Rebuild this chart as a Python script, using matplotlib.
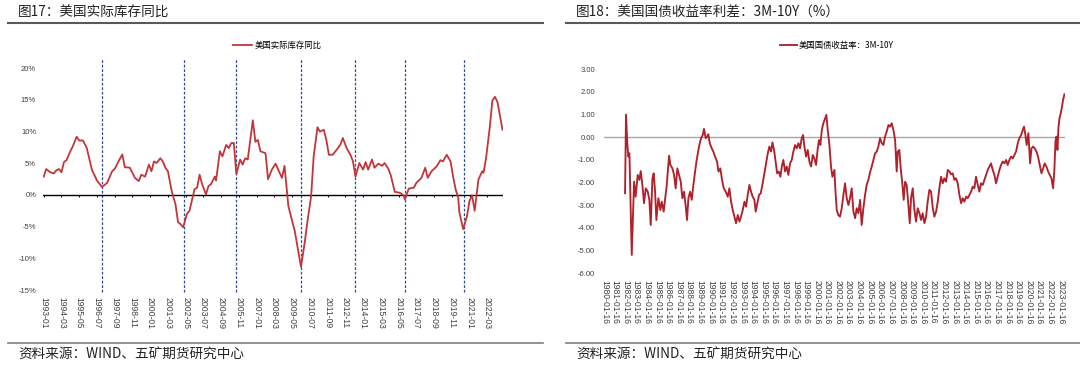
import matplotlib
matplotlib.use("Agg")
import matplotlib.pyplot as plt
from matplotlib.lines import Line2D

plt.rcParams['font.family'] = ['Noto Sans CJK SC', 'DejaVu Sans']
plt.rcParams['axes.unicode_minus'] = False

# === 图17: 美国实际库存同比 (%) ===
inv_dates = [
    '1993-01', '1993-03', '1993-06', '1993-09', '1993-11', '1994-01', '1994-03', '1994-05',
    '1994-07', '1994-10', '1994-12', '1995-03', '1995-05', '1995-08', '1995-11', '1996-03',
    '1996-07', '1996-11', '1997-03', '1997-07', '1997-09', '1997-12', '1998-03', '1998-05',
    '1998-09', '1999-01', '1999-04', '1999-06', '1999-09', '1999-12', '2000-02', '2000-04',
    '2000-06', '2000-09', '2000-11', '2001-01', '2001-03', '2001-06', '2001-09', '2001-11',
    '2002-01', '2002-03', '2002-06', '2002-08', '2002-12', '2003-02', '2003-04', '2003-06',
    '2003-09', '2003-11', '2004-01', '2004-04', '2004-05', '2004-08', '2004-10', '2005-01',
    '2005-03', '2005-05', '2005-07', '2005-09', '2005-12', '2006-02', '2006-04', '2006-06',
    '2006-10', '2006-12', '2007-02', '2007-04', '2007-08', '2007-10', '2008-01', '2008-04',
    '2008-06', '2008-09', '2008-11', '2009-02', '2009-05', '2009-07', '2009-10', '2009-12',
    '2010-03', '2010-05', '2010-08', '2010-10', '2011-01', '2011-03', '2011-06', '2011-08',
    '2011-10', '2012-01', '2012-04', '2012-07', '2012-09', '2012-12', '2013-03', '2013-05',
    '2013-07', '2013-10', '2014-01', '2014-03', '2014-05', '2014-08', '2014-10', '2015-01',
    '2015-04', '2015-06', '2015-09', '2015-11', '2016-02', '2016-06', '2016-09', '2016-10',
    '2017-01', '2017-05', '2017-07', '2017-11', '2018-02', '2018-04', '2018-07', '2018-11',
    '2019-02', '2019-04', '2019-07', '2019-10', '2019-12', '2020-02', '2020-04', '2020-05',
    '2020-08', '2020-11', '2021-01', '2021-03', '2021-05', '2021-08', '2021-11', '2021-12',
    '2022-02', '2022-05', '2022-07', '2022-09', '2022-11', '2023-03',
]
inv_yoy = [
    2.9, 4.1, 3.6, 3.4, 3.9, 4.1, 3.6, 5.2,
    5.5, 6.9, 7.7, 9.2, 8.6, 8.6, 7.4, 4.0,
    2.3, 1.25, 1.9, 3.75, 4.1, 5.3, 6.4, 4.4,
    4.3, 2.7, 2.2, 3.2, 2.9, 4.8, 3.75, 5.3,
    5.05, 5.8, 5.3, 4.3, 3.75, 0.6, -1.5, -4.3,
    -4.6, -5.1, -3.0, -2.5, 0.9, 1.15, 3.2, 1.7,
    0.1, 1.4, 1.7, 2.9, 2.3, 6.9, 6.1, 7.9,
    7.4, 8.2, 8.2, 3.3, 5.6, 4.8, 5.8, 5.6,
    11.8, 8.4, 8.7, 6.9, 6.6, 2.5, 4.0, 4.95,
    4.0, 2.7, 4.6, -1.7, -4.1, -5.6, -9.0, -11.35,
    -7.4, -4.3, -0.2, 6.1, 10.7, 10.0, 10.3, 8.7,
    6.35, 6.35, 7.1, 7.9, 9.0, 7.4, 6.35, 5.3,
    2.9, 5.05, 4.0, 5.2, 4.0, 5.6, 4.3, 4.95,
    4.6, 5.05, 4.1, 3.0, 0.5, 0.35, -0.05, -0.7,
    1.0, 1.15, 1.9, 2.7, 4.3, 2.7, 3.75, 4.5,
    5.5, 5.3, 6.35, 5.3, 2.9, 0.9, -0.4, -2.8,
    -5.4, -3.3, -0.9, -0.05, -2.5, 2.45, 3.75, 3.5,
    5.8, 10.8, 14.9, 15.5, 14.7, 10.3,
]
inv_marks = ['1996-11', '2002-04', '2005-09', '2009-12', '2013-07', '2016-10', '2020-09']
inv_ticklabels = [
    '1993-01', '1994-03', '1995-05', '1996-07', '1997-09', '1998-11', '2000-01', '2001-03',
    '2002-05', '2003-07', '2004-09', '2005-11', '2007-01', '2008-03', '2009-05', '2010-07',
    '2011-09', '2012-11', '2014-01', '2015-03', '2016-05', '2017-07', '2018-09', '2019-11',
    '2021-01', '2022-03',
]
inv_yticks = [-15, -10, -5, 0, 5, 10, 15, 20]

# === 图18: 美国国债收益率利差 3M-10Y (%) ===
spr_year = [
    1981.98, 1982.07, 1982.2, 1982.29, 1982.39, 1982.48, 1982.61, 1982.7, 1982.83, 1982.98,
    1983.17, 1983.33, 1983.46, 1983.61, 1983.77, 1983.93, 1984.12, 1984.27, 1984.4, 1984.56,
    1984.68, 1984.81, 1984.93, 1985.12, 1985.31, 1985.44, 1985.62, 1985.75, 1985.91, 1986.13,
    1986.25, 1986.44, 1986.6, 1986.75, 1986.91, 1987.07, 1987.23, 1987.38, 1987.54, 1987.7,
    1987.82, 1987.95, 1988.11, 1988.26, 1988.42, 1988.58, 1988.73, 1988.95, 1989.14, 1989.3,
    1989.42, 1989.58, 1989.71, 1989.83, 1989.96, 1990.15, 1990.3, 1990.46, 1990.65, 1990.78,
    1990.96, 1991.12, 1991.28, 1991.47, 1991.66, 1991.81, 1991.97, 1992.13, 1992.28, 1992.44,
    1992.6, 1992.76, 1992.91, 1993.07, 1993.23, 1993.38, 1993.54, 1993.7, 1993.85, 1994.01,
    1994.17, 1994.29, 1994.45, 1994.61, 1994.77, 1994.95, 1995.11, 1995.27, 1995.43, 1995.58,
    1995.74, 1995.87, 1996.02, 1996.15, 1996.31, 1996.46, 1996.62, 1996.75, 1996.9, 1997.06,
    1997.22, 1997.37, 1997.53, 1997.69, 1997.84, 1998.0, 1998.16, 1998.32, 1998.47, 1998.63,
    1998.76, 1998.88, 1999.04, 1999.2, 1999.35, 1999.51, 1999.67, 1999.82, 1999.98, 2000.14,
    2000.26, 2000.39, 2000.52, 2000.67, 2000.83, 2000.95, 2001.08, 2001.24, 2001.39, 2001.52,
    2001.71, 2001.8, 2001.93, 2002.08, 2002.24, 2002.4, 2002.56, 2002.71, 2002.87, 2003.03,
    2003.18, 2003.34, 2003.5, 2003.66, 2003.81, 2003.97, 2004.13, 2004.28, 2004.44, 2004.6,
    2004.75, 2004.91, 2005.07, 2005.23, 2005.38, 2005.54, 2005.7, 2005.85, 2006.01, 2006.17,
    2006.33, 2006.48, 2006.64, 2006.8, 2006.95, 2007.11, 2007.27, 2007.43, 2007.58, 2007.68,
    2007.83, 2007.96, 2008.12, 2008.24, 2008.37, 2008.52, 2008.68, 2008.81, 2008.93, 2009.09,
    2009.25, 2009.4, 2009.56, 2009.72, 2009.88, 2010.03, 2010.19, 2010.35, 2010.5, 2010.66,
    2010.82, 2010.98, 2011.13, 2011.29, 2011.45, 2011.6, 2011.76, 2011.92, 2012.07, 2012.23,
    2012.39, 2012.55, 2012.7, 2012.86, 2013.02, 2013.17, 2013.33, 2013.49, 2013.65, 2013.8,
    2013.96, 2014.12, 2014.27, 2014.43, 2014.59, 2014.74, 2014.9, 2015.06, 2015.22, 2015.37,
    2015.53, 2015.69, 2015.84, 2016.0, 2016.16, 2016.32, 2016.47, 2016.63, 2016.79, 2016.94,
    2017.1, 2017.26, 2017.42, 2017.57, 2017.73, 2017.89, 2018.04, 2018.2, 2018.36, 2018.52,
    2018.67, 2018.83, 2018.99, 2019.14, 2019.3, 2019.46, 2019.58, 2019.71, 2019.83, 2019.99,
    2020.15, 2020.28, 2020.43, 2020.59, 2020.75, 2020.9, 2021.06, 2021.22, 2021.38, 2021.53,
    2021.69, 2021.85, 2022.0, 2022.16, 2022.32, 2022.44, 2022.54, 2022.63, 2022.73, 2022.82,
    2022.92, 2023.04, 2023.13, 2023.26, 2023.39,
]
spr_val = [
    -2.47, 0.99, -0.34, -0.85, -0.7, -2.54, -5.19, -3.87, -1.96, -2.62,
    -1.66, -1.88, -1.49, -2.1, -2.91, -2.25, -2.4, -2.76, -3.87, -1.81,
    -1.59, -2.4, -3.65, -2.69, -3.21, -2.84, -3.28, -2.76, -2.1, -0.81,
    -1.22, -1.37, -1.66, -2.25, -1.37, -1.66, -1.96, -2.69, -2.4, -3.06,
    -3.65, -2.69, -2.4, -2.76, -2.1, -1.51, -1.0, -0.41, -0.04, 0.1,
    0.37, -0.04, 0.03, 0.13, -0.26, -0.49, -0.63, -0.85, -1.07, -1.51,
    -1.37, -1.88, -2.25, -2.4, -2.62, -2.25, -2.84, -3.21, -3.5, -3.79,
    -3.43, -3.72, -3.5, -3.21, -2.84, -3.06, -2.54, -2.1, -2.4, -2.62,
    -2.76, -3.28, -2.91, -2.54, -2.47, -2.03, -1.59, -1.15, -0.71, -0.41,
    -0.63, -0.22, -0.56, -1.0, -1.59, -1.51, -1.74, -1.29, -1.0, -1.51,
    -1.29, -1.66, -1.15, -1.0, -0.63, -0.34, -0.49, -0.26, -0.49, -0.04,
    0.1, -0.41, -0.85, -0.56, -1.07, -1.29, -0.78, -0.93, -1.22, -0.49,
    -0.12, -0.34, 0.32, 0.62, 0.84, 0.99, 0.32, -0.34, -1.29, -1.74,
    -1.44, -2.3, -3.21, -3.43, -3.5, -3.13, -2.54, -2.03, -2.69, -2.99,
    -2.69, -2.25, -3.28, -3.57, -3.13, -3.35, -2.76, -3.87, -3.13, -2.54,
    -2.1, -1.88, -1.54, -1.29, -1.0, -0.71, -0.63, -0.41, -0.04, -0.26,
    -0.34, 0.03, 0.25, 0.54, 0.47, 0.62, 0.32, -0.12, -1.51, -0.63,
    -0.56, -1.37, -2.1, -2.76, -1.96, -2.1, -2.99, -3.79, -2.69, -2.25,
    -3.21, -3.72, -3.13, -3.35, -3.65, -3.35, -3.79, -3.5, -2.84, -2.32,
    -2.4, -3.13, -3.5, -3.28, -2.84, -2.25, -1.74, -2.03, -1.81, -1.96,
    -1.44, -1.51, -1.63, -1.59, -1.88, -1.81, -2.03, -2.54, -2.91, -2.69,
    -2.84, -2.62, -2.69, -2.54, -2.4, -2.18, -2.25, -1.74, -2.1, -2.4,
    -2.03, -2.1, -1.88, -1.66, -1.44, -1.29, -1.15, -1.44, -1.66, -2.03,
    -1.74, -1.44, -1.22, -1.07, -1.15, -1.0, -1.22, -1.0, -0.85, -0.93,
    -0.78, -0.63, -0.26, -0.04, 0.1, 0.32, 0.47, 0.1, -0.34, 0.18,
    -1.15, -0.49, -0.41, -0.49, -0.63, -0.85, -1.22, -1.59, -1.37, -1.15,
    -1.29, -1.51, -1.66, -1.81, -2.25, -1.44, -0.19, 0.03, -0.56, 0.4,
    0.84, 1.06, 1.28, 1.65, 1.9,
]
spr_ticklabels = ['%d-01-16' % y for y in range(1980, 2024)]
spr_yticks = [-6, -5, -4, -3, -2, -1, 0, 1, 2, 3]

RED_L = '#C3353B'
RED_R = '#B0222B'
TXT = '#404040'
TICKFONT = ['Liberation Sans', 'DejaVu Sans']


def month_index(s):
    y, m = s.split('-')
    return (int(y) - 1993) * 12 + int(m) - 1


fig = plt.figure(figsize=(10.8, 3.7), dpi=100)

# ---------- pannello sinistro ----------
ax1 = fig.add_axes([0.03988, 0.2162, 0.4260, 0.5992])
xs = [month_index(d) for d in inv_dates]
ax1.plot(xs, inv_yoy, color=RED_L, lw=1.3, label='美国实际库存同比', zorder=3)
ax1.axhline(0, color='black', lw=1.0, zorder=2)
tick_pos = [month_index(t) for t in inv_ticklabels]
ax1.vlines(tick_pos, -0.35, 0, color='black', lw=0.7, zorder=2)
ax1.vlines([month_index(d) for d in inv_marks], -15.3, 21.6, colors='#2E4D8F',
           linestyles=(0, (2.2, 1.4)), lw=0.9, clip_on=False, zorder=1)
ax1.set_xlim(-0.5, 362.5)
ax1.set_ylim(-15, 20)
ax1.set_yticks(inv_yticks)
ax1.set_yticklabels(['%d%%' % v for v in inv_yticks], family=TICKFONT, fontsize=5.5, color=TXT)
ax1.set_xticks(tick_pos)
ax1.set_xticklabels(inv_ticklabels, rotation=270, family=TICKFONT, fontsize=6.2, color=TXT)
ax1.tick_params(axis='y', length=0, pad=5)
ax1.tick_params(axis='x', length=0, pad=5)
for s in ax1.spines.values():
    s.set_visible(False)
ax1.legend(loc='center', bbox_to_anchor=(0.2565, 0.8784), bbox_transform=fig.transFigure,
           frameon=False, fontsize=6, handlelength=2.3, handletextpad=0.3)

# ---------- pannello destro ----------
ax2 = fig.add_axes([0.5593, 0.2614, 0.4269, 0.5513])
ax2.plot(spr_year, spr_val, color=RED_R, lw=1.35, label='美国国债收益率：3M-10Y', zorder=3)
ax2.axhline(0, color='#A6A6A6', lw=1.0, zorder=2)
ax2.set_xlim(1980.0, 2023.45)
ax2.set_ylim(-6, 3)
ax2.set_yticks(spr_yticks)
ax2.set_yticklabels(['%.2f' % v for v in spr_yticks], family=TICKFONT, fontsize=5.5, color=TXT)
ax2.set_xticks([int(t[:4]) + 0.04 for t in spr_ticklabels])
ax2.set_xticklabels(spr_ticklabels, rotation=270, family=TICKFONT, fontsize=6.2, color=TXT)
ax2.tick_params(axis='y', length=0, pad=6.5)
ax2.tick_params(axis='x', length=0, pad=5)
for s in ax2.spines.values():
    s.set_visible(False)
ax2.legend(loc='center', bbox_to_anchor=(0.775, 0.8784), bbox_transform=fig.transFigure,
           frameon=False, fontsize=6, handlelength=2.0, handletextpad=0.3)

# ---------- titoli, righe, fonti ----------
fig.text(0.0167, 0.9657, '图17：美国实际库存同比', fontsize=9.8, color='#222222', va='center')
fig.text(0.5333, 0.9657, '图18：美国国债收益率利差：3M-10Y（%）', fontsize=9.8, color='#222222', va='center')
for x0, x1 in [(0.0074, 0.5028), (0.524, 1.0)]:
    fig.add_artist(Line2D([x0, x1], [0.937, 0.937], color='#595959', lw=1.5))
    fig.add_artist(Line2D([x0, x1], [0.0738, 0.0738], color='#7F7F7F', lw=1.2))
fig.text(0.0167, 0.042, '资料来源：WIND、五矿期货研究中心', fontsize=9.8, color='#222222', va='center')
fig.text(0.5333, 0.042, '资料来源：WIND、五矿期货研究中心', fontsize=9.8, color='#222222', va='center')

fig.savefig('out.png', dpi=100, facecolor='white')
